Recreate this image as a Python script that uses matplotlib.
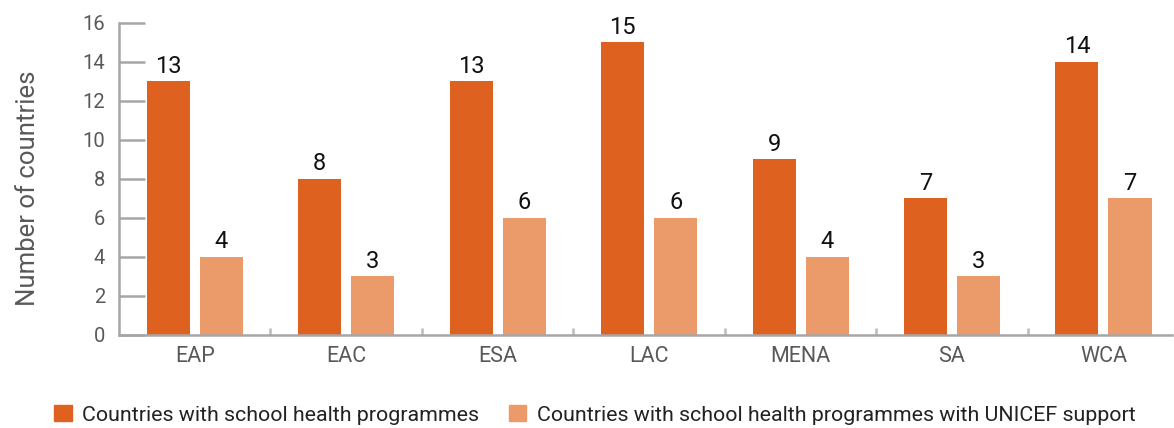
import numpy as np
import matplotlib.pyplot as plt
from matplotlib.patches import Patch

regions = ['EAP', 'EAC', 'ESA', 'LAC', 'MENA', 'SA', 'WCA']
with_programmes = [13, 8, 13, 15, 9, 7, 14]
with_unicef = [4, 3, 6, 6, 4, 3, 7]
series_names = ['Countries with school health programmes',
                'Countries with school health programmes with UNICEF support']

dark = '#df611f'
light = '#eb9b6a'
grey = '#a6a6a6'
txt = '#595959'

plt.rcParams['font.family'] = ['Roboto', 'DejaVu Sans']

fig = plt.figure(figsize=(11.74, 4.28), dpi=100)
ax = fig.add_axes([0.1014, 0.2173, 0.8966, 0.729])

x = np.arange(len(regions))
w = 0.284
off = 0.175
b1 = ax.bar(x - off, with_programmes, w, color=dark)
b2 = ax.bar(x + off, with_unicef, w, color=light)

for bars in (b1, b2):
    for b in bars:
        ax.text(b.get_x() + b.get_width() / 2, b.get_height() + 0.2,
                str(int(b.get_height())), ha='center', va='bottom',
                fontsize=17, color='#111111')

ax.set_xlim(-0.5, 6.45)
ax.set_ylim(0, 16)
ax.set_yticks(range(0, 17, 2))
ax.set_xticks(x)
ax.set_xticklabels(regions)
ax.set_xticks(np.arange(0.5, 6.5, 1), minor=True)

ax.tick_params(axis='y', direction='in', length=19, width=1.8, color=grey,
               labelsize=14.5, labelcolor=txt, pad=10)
ax.tick_params(axis='x', which='major', length=0, labelsize=15.5,
               labelcolor=txt, pad=8)
ax.tick_params(axis='x', which='minor', direction='in', length=5,
               width=1.8, color='#bbbbbb')

for s in ('top', 'right'):
    ax.spines[s].set_visible(False)
for s in ('left', 'bottom'):
    ax.spines[s].set_color(grey)
    ax.spines[s].set_linewidth(1.8)

ax.set_ylabel('Number of countries', fontsize=18.5, color=txt)
ax.yaxis.set_label_coords(-0.075, 0.47)

handles = [Patch(color=dark), Patch(color=light)]
fig.legend(handles, series_names, loc='lower left', bbox_to_anchor=(0.03, -0.037),
           ncol=2, frameon=False, fontsize=15.4, handlelength=0.8,
           handleheight=0.8, handletextpad=0.5, columnspacing=1.4,
           labelcolor='#222222')

fig.savefig('out.png', dpi=100)
